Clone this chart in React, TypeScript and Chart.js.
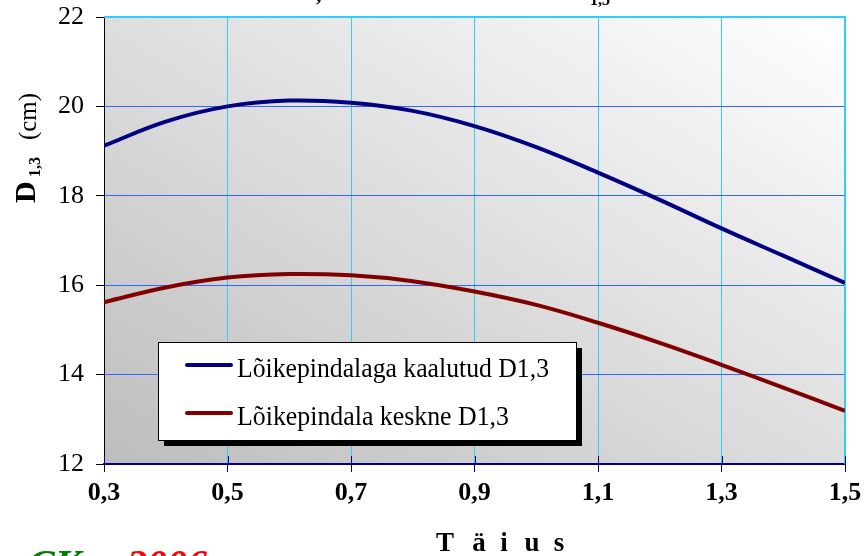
import React, { useEffect, useRef } from "react";
import { Chart, registerables } from "chart.js";

Chart.register(...registerables);

// ---- data ----
const xValues = [0.3, 0.4, 0.5, 0.6, 0.7, 0.8, 0.9, 1.0, 1.1, 1.2, 1.3, 1.4, 1.5];
const weightedD13 = [19.12, 19.66, 20.0, 20.13, 20.08, 19.9, 19.56, 19.09, 18.52, 17.91, 17.27, 16.66, 16.05];
const meanD13 = [15.62, 15.95, 16.17, 16.25, 16.22, 16.09, 15.86, 15.56, 15.16, 14.71, 14.22, 13.71, 13.19];
const xTicks = [0.3, 0.5, 0.7, 0.9, 1.1, 1.3, 1.5];
const yTicks = [12, 14, 16, 18, 20, 22];
const seriesLabels = ["Lõikepindalaga kaalutud D1,3", "Lõikepindala keskne D1,3"];
const seriesColors = ["#000080", "#800000"];
const xTitleChars = ["T", "ä", "i", "u", "s"];

const SERIF = "'Liberation Serif', 'DejaVu Serif', serif";

const bgPlugin = {
  id: "bgGradient",
  beforeDraw(chart: any) {
    const { ctx, chartArea: a } = chart;
    const w = a.right - a.left;
    const h = a.bottom - a.top;
    const L2 = w * w + h * h;
    const k = (2 * w * h) / L2;
    const g = ctx.createLinearGradient(a.left, a.bottom, a.left + h * k, a.bottom - w * k);
    g.addColorStop(0, "#bdbdbd");
    g.addColorStop(1, "#ffffff");
    ctx.save();
    ctx.fillStyle = g;
    ctx.fillRect(a.left, a.top, w, h);
    ctx.restore();
  },
};

const overlayPlugin = {
  id: "overlay",
  beforeDatasetsDraw(chart: any) {
    const { ctx, chartArea: a, scales } = chart;
    ctx.save();
    ctx.strokeStyle = "#33ccff";
    ctx.lineWidth = 2;
    ctx.beginPath();
    ctx.moveTo(a.left, a.top);
    ctx.lineTo(a.right, a.top);
    ctx.lineTo(a.right, a.bottom);
    ctx.stroke();
    ctx.strokeStyle = "#000080";
    ctx.lineWidth = 1;
    ctx.beginPath();
    for (const v of xTicks) {
      const px = Math.round(scales.x.getPixelForValue(v)) + 0.5;
      ctx.moveTo(px, a.bottom - 8);
      ctx.lineTo(px, a.bottom);
    }
    ctx.stroke();
    ctx.restore();
  },
  afterDraw(chart: any) {
    const { ctx } = chart;
    ctx.save();
    // legend box with shadow
    const bx = 158, by = 342, bw = 418, bh = 98;
    ctx.fillStyle = "#000000";
    ctx.fillRect(bx + 6, by + 6, bw, bh);
    ctx.fillStyle = "#ffffff";
    ctx.fillRect(bx, by, bw, bh);
    ctx.strokeStyle = "#000000";
    ctx.lineWidth = 1;
    ctx.strokeRect(bx + 0.5, by + 0.5, bw, bh);
    const rows = [365, 413];
    const widths = [312, 272];
    chart.data.datasets.forEach((ds: any, i: number) => {
      ctx.strokeStyle = ds.borderColor;
      ctx.lineWidth = 4;
      ctx.lineCap = "round";
      ctx.beginPath();
      ctx.moveTo(187, rows[i]);
      ctx.lineTo(231, rows[i]);
      ctx.stroke();
      ctx.fillStyle = "#000000";
      ctx.font = `27px ${SERIF}`;
      ctx.textBaseline = "alphabetic";
      ctx.textAlign = "left";
      ctx.fillText(ds.label, 237, rows[i] + 12, widths[i]);
    });

    // y-axis title (rotated): D_{1,3} (cm)
    ctx.save();
    ctx.rotate(-Math.PI / 2);
    ctx.fillStyle = "#000000";
    ctx.textAlign = "left";
    ctx.textBaseline = "alphabetic";
    ctx.font = `bold 30px ${SERIF}`;
    ctx.fillText("D", -203, 35, 26);
    ctx.font = `bold 16px ${SERIF}`;
    ctx.fillText("1,3", -177, 40);
    ctx.font = `26px ${SERIF}`;
    ctx.fillText("(cm)", -140, 36, 47);
    ctx.restore();

    // x-axis title, spaced letters
    ctx.font = `bold 27px ${SERIF}`;
    ctx.fillStyle = "#000000";
    ctx.textAlign = "center";
    ctx.textBaseline = "alphabetic";
    const cx = [445, 479, 504, 532, 559];
    xTitleChars.forEach((c, i) => ctx.fillText(c, cx[i], 551));

    // cut-off chart title fragments at top
    ctx.font = `bold 22px ${SERIF}`;
    ctx.textAlign = "left";
    ctx.fillText(",", 316, 1);
    ctx.font = `bold 16px ${SERIF}`;
    ctx.fillText("1,3", 590, 5);

    // cut-off signature at bottom-left
    ctx.font = `italic bold 40px ${SERIF}`;
    ctx.fillStyle = "#008000";
    ctx.fillText("CK", 28, 577, 75);
    ctx.fillStyle = "#ff0000";
    ctx.fillText("2006", 127, 577, 84);
    ctx.restore();
  },
};

export default function App() {
  const ref = useRef<HTMLCanvasElement | null>(null);
  useEffect(() => {
    if (!ref.current) return;
    const chart = new Chart(ref.current, {
      type: "line",
      data: {
        datasets: [
          {
            label: seriesLabels[0],
            data: xValues.map((x, i) => ({ x, y: weightedD13[i] })),
            borderColor: seriesColors[0],
            borderWidth: 4,
            pointRadius: 0,
            tension: 0.4,
            fill: false,
          },
          {
            label: seriesLabels[1],
            data: xValues.map((x, i) => ({ x, y: meanD13[i] })),
            borderColor: seriesColors[1],
            borderWidth: 4,
            pointRadius: 0,
            tension: 0.4,
            fill: false,
          },
        ],
      },
      options: {
        animation: false,
        responsive: false,
        layout: { padding: { top: 17, right: 22, left: 0, bottom: 0 } },
        plugins: { legend: { display: false }, tooltip: { enabled: false }, title: { display: false } },
        scales: {
          x: {
            type: "linear",
            min: 0.3,
            max: 1.5,
            afterBuildTicks: (s: any) => {
              s.ticks = xTicks.map((v) => ({ value: v }));
            },
            afterFit: (s: any) => {
              s.height = 92;
              s.paddingLeft = 0;
              s.paddingRight = 0;
            },
            grid: { color: "#33ccff", lineWidth: 1, tickColor: "#000080", tickLength: 8 },
            border: { color: "#000080", width: 2 },
            ticks: {
              color: "#000000",
              padding: 6,
              maxRotation: 0,
              font: { family: SERIF, size: 26, weight: "bold" },
              callback: (v: any) => Number(v).toFixed(1).replace(".", ","),
            },
          },
          y: {
            type: "linear",
            min: 12,
            max: 22,
            afterBuildTicks: (s: any) => {
              s.ticks = yTicks.map((v) => ({ value: v }));
            },
            afterFit: (s: any) => {
              s.width = 104;
              s.paddingTop = 0;
              s.paddingBottom = 0;
            },
            grid: { color: "#3366ff", lineWidth: 1, tickColor: "#000000", tickLength: 8 },
            border: { color: "#000000", width: 1 },
            ticks: {
              color: "#000000",
              padding: 12,
              font: { family: SERIF, size: 26 },
              callback: (v: any) => String(v),
            },
          },
        },
      },
      plugins: [bgPlugin, overlayPlugin],
    } as any);
    return () => chart.destroy();
  }, []);
  return (
    <div style={{ position: "absolute", left: 0, top: 0, width: 867, height: 556, background: "#ffffff" }}>
      <canvas ref={ref} width={867} height={556} style={{ display: "block" }} />
    </div>
  );
}
